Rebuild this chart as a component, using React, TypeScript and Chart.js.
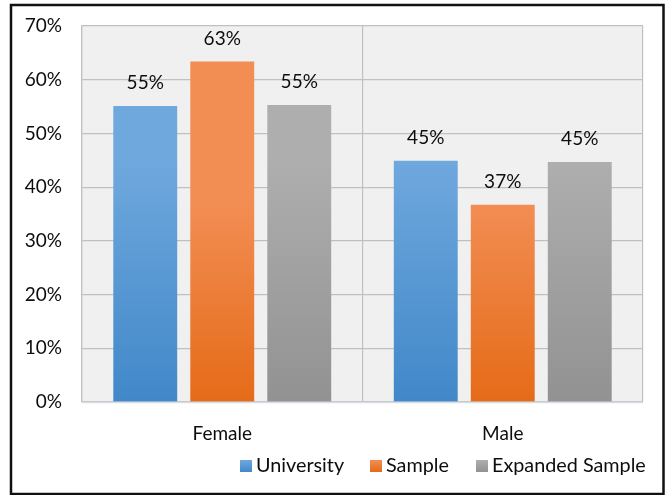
import React, { useEffect, useRef } from "react";
import { Chart, registerables } from "chart.js";

Chart.register(...registerables);

const categories = ["Female", "Male"];
const seriesNames = ["University", "Sample", "Expanded Sample"];
const university = [55.1, 44.9];
const sample = [63.4, 36.7];
const expanded = [55.3, 44.7];
const valueLabels = [
  ["55%", "45%"],
  ["63%", "37%"],
  ["55%", "45%"],
];
const yTicks = [0, 10, 20, 30, 40, 50, 60, 70];

const gradStops: [string, string][] = [
  ["#6fa8dd", "#4188c9"],
  ["#f28d53", "#e56b18"],
  ["#aeaeae", "#929292"],
];

const FONT = "Lato, 'Open Sans', sans-serif";
const TEXT = "#0d0d0d";

function barGradient(ctx: any, bar: any, stops: [string, string]) {
  const g = ctx.createLinearGradient(0, bar.y, 0, bar.base);
  g.addColorStop(0, stops[0]);
  g.addColorStop(1, stops[1]);
  return g;
}

const bgPlugin = {
  id: "bgPlugin",
  beforeDraw(chart: any) {
    const { ctx, chartArea } = chart;
    ctx.save();
    ctx.fillStyle = "#ffffff";
    ctx.fillRect(0, 0, chart.width, chart.height);
    ctx.fillStyle = "#f0f0f0";
    ctx.fillRect(chartArea.left, chartArea.top, chartArea.right - chartArea.left, chartArea.bottom - chartArea.top);
    ctx.restore();
  },
  beforeDatasetsDraw(chart: any) {
    const { ctx } = chart;
    chart.data.datasets.forEach((ds: any, i: number) => {
      const meta = chart.getDatasetMeta(i);
      meta.data.forEach((bar: any) => {
        bar.options.backgroundColor = barGradient(ctx, bar, gradStops[i]);
      });
    });
  },
  afterDatasetsDraw(chart: any) {
    const { ctx } = chart;
    ctx.save();
    ctx.font = "19px " + FONT;
    ctx.fillStyle = TEXT;
    ctx.textAlign = "center";
    ctx.textBaseline = "middle";
    chart.data.datasets.forEach((ds: any, i: number) => {
      const meta = chart.getDatasetMeta(i);
      meta.data.forEach((bar: any, j: number) => {
        ctx.fillText(valueLabels[i][j], bar.x, bar.y - 23);
      });
    });
    ctx.restore();
  },
  afterDraw(chart: any) {
    const { ctx, chartArea } = chart;
    ctx.save();
    ctx.strokeStyle = "#d6dde5";
    ctx.lineWidth = 1.5;
    ctx.beginPath();
    ctx.moveTo(chartArea.left, chartArea.bottom + 0.5);
    ctx.lineTo(chartArea.right, chartArea.bottom + 0.5);
    ctx.stroke();
    const items = [
      { x: 240, name: seriesNames[0], i: 0 },
      { x: 370, name: seriesNames[1], i: 1 },
      { x: 476, name: seriesNames[2], i: 2 },
    ];
    const ly = 466;
    ctx.font = "19.8px " + FONT;
    ctx.textAlign = "left";
    ctx.textBaseline = "middle";
    items.forEach((it) => {
      const g = ctx.createLinearGradient(0, ly - 6, 0, ly + 6);
      g.addColorStop(0, gradStops[it.i][0]);
      g.addColorStop(1, gradStops[it.i][1]);
      ctx.fillStyle = g;
      ctx.fillRect(it.x, ly - 6, 12, 12);
      ctx.fillStyle = TEXT;
      ctx.fillText(it.name, it.x + 16, ly);
    });
    ctx.strokeStyle = "#111111";
    ctx.lineWidth = 2.5;
    ctx.strokeRect(11, 5, 652.5, 489);
    ctx.restore();
  },
};

export default function App() {
  const ref = useRef<HTMLCanvasElement>(null);
  useEffect(() => {
    document.body.style.margin = "0";
    const c = ref.current!;
    const chart = new Chart(c, {
      type: "bar",
      data: {
        labels: categories,
        datasets: [
          { label: seriesNames[0], data: university, backgroundColor: gradStops[0][1] },
          { label: seriesNames[1], data: sample, backgroundColor: gradStops[1][1] },
          { label: seriesNames[2], data: expanded, backgroundColor: gradStops[2][1] },
        ],
      },
      options: {
        responsive: false,
        animation: false,
        devicePixelRatio: 1,
        layout: { padding: { top: 26, right: 27, left: 0, bottom: 0 } },
        datasets: { bar: { categoryPercentage: 0.8235, barPercentage: 0.83 } },
        plugins: { legend: { display: false }, tooltip: { enabled: false } },
        scales: {
          x: {
            grid: { display: true, offset: true, color: "#c0c0c0", lineWidth: 1.2, drawTicks: false },
            border: { display: false },
            ticks: { font: { size: 19, family: FONT }, color: TEXT, padding: 20 },
            afterFit(scale: any) {
              scale.height = 93;
              scale.paddingLeft = 0;
              scale.paddingRight = 0;
            },
          },
          y: {
            min: 0,
            max: 70,
            grid: { color: "#c0c0c0", lineWidth: 1.2, drawTicks: false },
            border: { display: true, color: "#c0c0c0", width: 1.2 },
            afterBuildTicks(scale: any) { scale.ticks = yTicks.map((v) => ({ value: v })); },
            ticks: {
              font: { size: 19, family: FONT },
              color: TEXT,
              padding: 20,
              callback: (v: any) => v + "%",
            },
            afterFit(scale: any) {
              scale.width = 82;
              scale.paddingTop = 0;
              scale.paddingBottom = 0;
            },
          },
        },
      },
      plugins: [bgPlugin],
    });
    return () => chart.destroy();
  }, []);
  return (
    <div style={{ position: "absolute", left: 0, top: 0, width: 670, height: 495 }}>
      <canvas ref={ref} width={670} height={495} />
    </div>
  );
}
